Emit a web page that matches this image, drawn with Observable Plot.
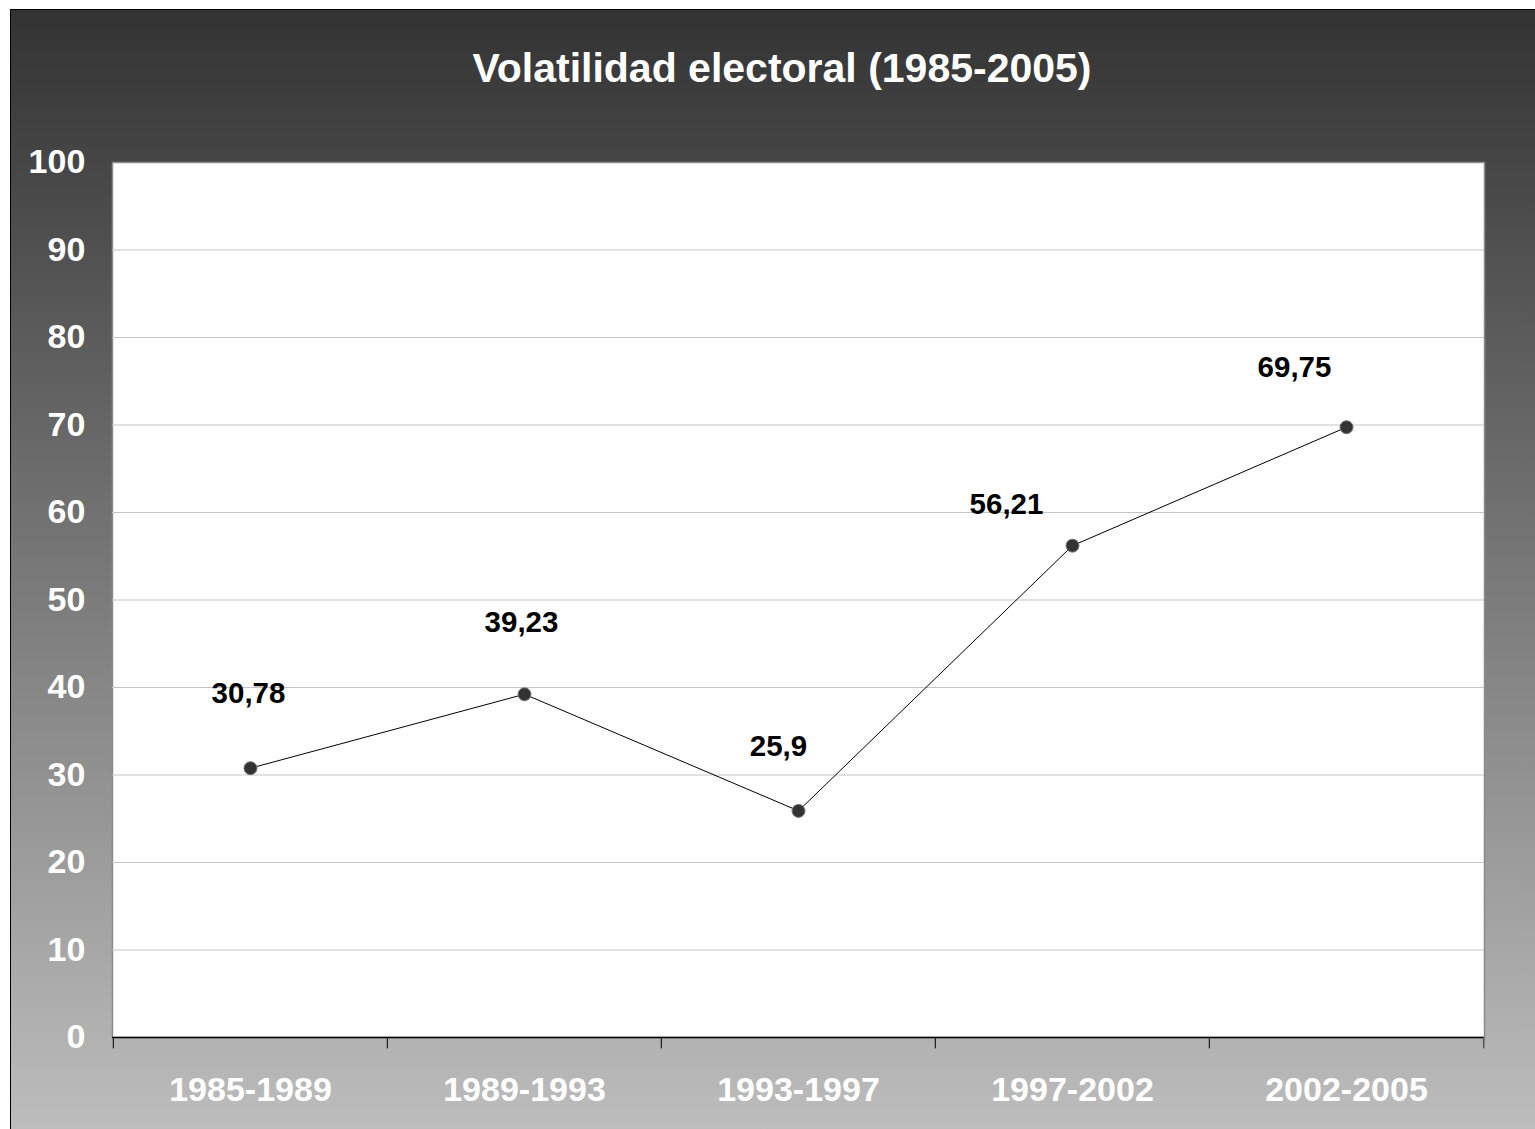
<!DOCTYPE html>
<html>
<head>
<meta charset="utf-8">
<script src="https://cdn.jsdelivr.net/npm/d3@7"></script>
<script src="https://cdn.jsdelivr.net/npm/@observablehq/plot@0.6"></script>
<style>
  html, body { margin: 0; padding: 0; width: 1535px; height: 1129px; overflow: hidden; background: #fff; }
  body { position: relative; font-family: Arial, "Liberation Sans", sans-serif; }
  #bg { position: absolute; left: 10px; top: 9px; width: 1540px; height: 1140px; box-sizing: border-box;
        border: 1.5px solid #000; background: linear-gradient(to bottom, #333333 0px, #bdbdbd 1120px); }
  #title { position: absolute; left: 0; top: 43px; width: 1564px; text-align: center; color: #fff;
           font-weight: bold; font-size: 41px; line-height: 50px; }
  #chart { position: absolute; left: 0; top: 130px; }
  #chart svg { background: transparent; overflow: visible; }
</style>
</head>
<body>
<div id="bg"></div>
<div id="title">Volatilidad electoral (1985-2005)</div>
<div id="chart"></div>
<script>
// Data
const periods = ["1985-1989", "1989-1993", "1993-1997", "1997-2002", "2002-2005"];
const volatility = [30.78, 39.23, 25.9, 56.21, 69.75];
const valueLabels = ["30,78", "39,23", "25,9", "56,21", "69,75"];
const yTicks = [0, 10, 20, 30, 40, 50, 60, 70, 80, 90, 100];

const rows = periods.map((p, i) => ({period: p, value: volatility[i], label: valueLabels[i]}));

// Label placement (layout only, pixel offsets from each point)
const labelDx = [-2, -3, -20, -66, -52];
const labelDy = [-75, -72, -64, -41, -60];

const width = 1535, height = 999;
const marginLeft = 112, marginRight = 51, marginTop = 32, marginBottom = 92;
const half = (width - marginLeft - marginRight) / periods.length / 2;

const chart = Plot.plot({
  width, height, marginLeft, marginRight, marginTop, marginBottom,
  style: {background: "transparent", fontFamily: "Arial, 'Liberation Sans', sans-serif", overflow: "visible"},
  x: {type: "band", domain: periods, padding: 0, axis: null},
  y: {domain: [0, 100], axis: null},
  marks: [
    Plot.frame({fill: "white", stroke: "#8a8a8a", strokeWidth: 1.5}),
    // gridlines
    Plot.ruleY(yTicks.filter(d => d > 0 && d < 100), {stroke: "#c4c4c4", strokeWidth: 1}),
    // bottom axis line
    Plot.ruleY([0], {stroke: "#000", strokeWidth: 1.5}),
    // boundary tick marks
    Plot.ruleX(periods, {x: d => d, dx: -half, y1: 0, y2: -1.3, stroke: "#000", strokeWidth: 1}),
    Plot.ruleX([periods[periods.length - 1]], {x: d => d, dx: half, y1: 0, y2: -1.3, stroke: "#555", strokeWidth: 1.5}),
    // y tick labels
    Plot.text(yTicks, {x: () => periods[0], y: d => d, text: d => String(d), dx: -half - 28, textAnchor: "end",
      fill: "white", fontWeight: "bold", fontSize: 34}),
    // x tick labels
    Plot.text(periods, {x: d => d, y: 0, text: d => d, dy: 53, fill: "white", fontWeight: "bold", fontSize: 34}),
    // line + dots
    Plot.line(rows, {x: "period", y: "value", stroke: "#000", strokeWidth: 1}),
    Plot.dot(rows, {x: "period", y: "value", r: 6.5, fill: "#333333", stroke: "#777", strokeWidth: 1}),
    // value labels
    ...rows.map((r, i) => Plot.text([r], {x: "period", y: "value", text: "label", dx: labelDx[i], dy: labelDy[i],
      fill: "#000", fontWeight: "bold", fontSize: 29.5}))
  ]
});
document.getElementById("chart").appendChild(chart);
</script>
</body>
</html>
